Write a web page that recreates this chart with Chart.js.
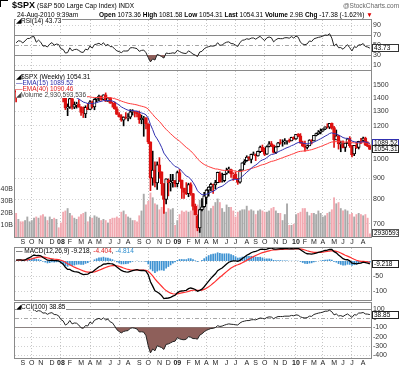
<!DOCTYPE html>
<html><head><meta charset="utf-8">
<script src="https://cdn.jsdelivr.net/npm/chart.js@4.4.1/dist/chart.umd.min.js"></script>
<style>
html,body{margin:0;padding:0;background:#fff;}
body{width:400px;height:369px;overflow:hidden;position:relative;font-family:"Liberation Sans",Arial,sans-serif;}
canvas{position:absolute;left:0;}
.t{position:absolute;white-space:nowrap;font-size:7px;line-height:7px;color:#000;z-index:5;}
.lg{position:absolute;white-space:nowrap;font-size:6.5px;line-height:6px;background:#fff;z-index:5;padding-right:1px;}
b{font-weight:bold;}
</style></head><body>
<div class="t" style="left:0;top:0;width:7px;height:6px;border-top:1px solid #000;border-left:1px solid #000;"></div>
<div class="t" style="left:12px;top:2px;"><b style="font-size:9px;">$SPX</b> <span style="font-size:6.5px;">(S&amp;P 500 Large Cap Index) INDX</span></div>
<div class="t" style="left:343px;top:2px;font-size:6.5px;color:#666;">@StockCharts.com</div>
<div class="t" style="left:17px;top:11px;font-size:6.5px;">24-Aug-2010 9:39am</div>
<div class="t" style="left:99px;top:11px;font-size:6.5px;"><b>Open</b> 1073.36 <b>High</b> 1081.58 <b>Low</b> 1054.31 <b>Last</b> 1054.31 <b>Volume</b> 2.9B <b>Chg</b> -17.38 (-1.62%) <span style="color:#d00;">&#9660;</span></div>
<div class="lg" style="left:16px;top:18px;">&#9698;RSI(14) 43.73</div>
<div class="lg" style="left:16px;top:74px;">&#9698;$SPX (Weekly) 1054.31</div>
<div class="lg" style="left:16px;top:80px;color:#2a2aa8;">&#8212;EMA(15) 1089.52</div>
<div class="lg" style="left:16px;top:86px;color:#e02020;">&#8212;EMA(40) 1090.46</div>
<div class="lg" style="left:16px;top:92px;color:#444;">&#9698;Volume 2,930,593,536</div>
<div class="lg" style="left:16px;top:248px;">&#8212; MACD(12,26,9) -9.218, <span style="color:#e02020">-4.404</span>, <span style="color:#2f8fd0">-4.814</span></div>
<div class="lg" style="left:16px;top:304px;">&#9698;CCI(100) 38.85</div>

<canvas id="cRsi" width="400" height="53" style="top:18px"></canvas>
<canvas id="cPrice" width="400" height="176" style="top:71px"></canvas>
<canvas id="cMacd" width="400" height="54" style="top:247px"></canvas>
<canvas id="cCci" width="400" height="67" style="top:302px"></canvas>

<script>
// ---------------- DATA (weekly bars, 13-Aug-2007 .. 23-Aug-2010) ----------------
const TICK_INDEX = [3,7,11,16,20,24,29,33,37,42,46,50,55,59,64,68,72,77,81,85,89,94,98,103,107,111,116,120,125,129,133,137,142,146,150,155];
const TICK_LABEL = ['S','O','N','D','08','F','M','A','M','J','J','A','S','O','N','D','09','F','M','A','M','J','J','A','S','O','N','D','10','F','M','A','M','J','J','A'];
const GRID_INDEX = [7,20,33,46,59,72,85,98,111,125,137,150];

const OPEN = [1453.4,1445.6,1479.4,1474.0,1453.5,1484.2,1525.8,1527.3,1557.4,1562.2,1500.6,1536.9,1505.6,1453.7,1458.7,1440.7,1479.6,1505.0,1465.0,1484.5,
1468.4,1414.0,1402.0,1325.2,1330.5,1395.4,1331.3,1350.0,1353.1,1330.5,1293.2,1283.0,1330.0,1315.0,1370.0,1332.8,1390.3,1397.8,1413.9,1388.3,
1425.3,1375.9,1400.4,1360.7,1360.0,1317.9,1278.0,1262.9,1239.5,1260.7,1257.8,1260.3,1296.3,1298.2,1292.2,1282.8,1242.3,1251.7,1255.1,1213.3,
1099.2,899.2,940.5,876.8,968.7,931.0,873.3,800.0,888.6,876.1,879.1,887.9,872.4,927.5,890.4,850.1,832.0,825.4,868.2,826.8,
770.0,729.6,683.4,756.6,768.5,809.1,842.5,856.6,868.2,866.2,877.2,922.9,886.1,887.0,923.3,940.4,943.4,918.1,919.9,894.3,
879.6,940.6,979.2,990.2,1008.9,998.2,1026.6,1025.2,1016.4,1040.5,1067.3,1043.8,1026.9,1071.6,1088.2,1079.6,1036.2,1069.8,1094.1,1091.5,
1098.9,1105.5,1107.8,1105.0,1127.5,1116.6,1145.0,1136.0,1092.0,1073.9,1065.5,1075.5,1110.0,1105.4,1138.4,1150.0,1157.3,1167.7,1178.7,1194.9,
1192.4,1217.1,1188.6,1111.0,1136.5,1084.8,1087.3,1065.8,1092.0,1121.3,1077.5,1028.1,1077.2,1066.0,1103.0,1107.5,1122.0,1081.0,1073.4];
const HIGH = [1466.3,1484.0,1481.5,1496.4,1489.6,1539.0,1538.7,1561.9,1576.1,1564.7,1536.1,1552.8,1520.0,1492.1,1460.0,1488.9,1508.0,1523.6,1485.4,1498.9,
1472.0,1429.0,1420.0,1355.0,1397.0,1397.0,1370.0,1368.0,1388.0,1335.0,1333.0,1341.0,1359.0,1381.0,1378.0,1395.0,1404.0,1422.0,1416.0,1425.0,
1440.0,1406.0,1404.0,1370.0,1370.0,1333.0,1292.0,1277.0,1262.0,1291.0,1284.0,1313.0,1313.0,1300.0,1303.0,1303.0,1274.0,1265.0,1256.0,1215.0,
1099.2,1044.3,985.0,984.0,1007.5,932.0,873.3,896.2,896.2,918.9,918.9,888.0,935.0,943.9,890.4,852.0,877.9,875.0,877.0,827.0,
780.0,735.0,758.3,804.0,832.0,845.0,858.0,875.6,871.0,889.0,930.2,931.0,924.6,920.0,951.0,956.2,946.0,927.0,931.0,898.7,
943.0,979.5,996.7,1018.0,1013.1,1027.6,1039.5,1028.1,1044.0,1074.0,1080.0,1063.0,1076.0,1101.4,1101.4,1081.0,1071.0,1097.0,1113.0,1112.0,
1119.0,1107.0,1117.0,1128.0,1130.4,1146.0,1150.4,1150.5,1103.7,1104.0,1080.0,1112.4,1112.4,1139.0,1153.0,1170.0,1180.7,1181.4,1194.7,1214.4,
1217.5,1219.8,1197.0,1173.6,1141.0,1104.0,1105.7,1092.0,1120.0,1131.2,1078.0,1078.0,1099.1,1103.0,1120.9,1129.2,1128.0,1100.1,1081.6];
const LOW = [1370.6,1430.5,1432.0,1449.1,1439.3,1471.0,1516.2,1526.5,1546.7,1500.6,1489.6,1492.1,1450.0,1439.0,1406.1,1406.1,1460.0,1464.0,1435.6,1468.5,
1411.6,1370.1,1313.2,1270.1,1322.0,1316.8,1320.0,1324.0,1330.6,1272.0,1257.0,1256.0,1312.0,1312.0,1324.0,1312.0,1370.0,1379.0,1382.0,1386.0,
1373.0,1374.0,1359.0,1331.0,1316.0,1278.0,1260.0,1231.0,1200.4,1248.0,1234.0,1248.0,1274.0,1261.0,1262.0,1217.0,1214.0,1133.5,1180.0,1088.0,
839.8,865.0,857.0,845.3,899.7,818.7,741.0,780.1,815.7,837.9,856.0,857.0,857.0,883.0,804.3,804.1,821.7,812.0,818.4,754.3,
734.5,672.9,666.8,751.0,766.0,779.8,814.5,839.0,826.8,847.1,877.0,878.9,879.6,881.5,919.0,927.0,903.8,888.9,896.4,869.3,
875.3,940.0,968.7,987.0,992.4,978.5,1022.0,991.0,1016.0,1036.0,1041.2,1019.0,1025.0,1069.5,1070.0,1033.0,1029.4,1069.3,1085.0,1073.0,
1085.0,1085.0,1096.0,1105.0,1114.0,1114.0,1130.0,1090.2,1071.6,1044.5,1056.5,1075.5,1086.0,1105.4,1136.0,1144.0,1148.5,1165.0,1175.0,1186.0,
1181.6,1179.0,1065.8,1111.0,1055.9,1040.8,1062.3,1042.2,1089.0,1066.0,1010.9,1018.4,1060.0,1056.9,1088.0,1101.0,1076.6,1069.4,1054.3];
const CLOSE = [1445.9,1479.4,1474.0,1453.6,1484.3,1525.8,1526.8,1557.6,1561.8,1500.6,1535.3,1509.7,1453.7,1458.7,1440.7,1481.1,1504.7,1468.0,1484.5,1478.5,
1411.6,1401.0,1325.2,1330.6,1395.4,1331.3,1350.0,1353.1,1330.6,1293.4,1288.1,1329.5,1315.2,1370.4,1332.8,1390.3,1397.8,1413.9,1388.3,1425.4,
1375.9,1400.4,1360.7,1360.0,1317.9,1278.4,1262.9,1239.5,1260.7,1257.8,1260.3,1296.3,1298.2,1292.2,1282.8,1242.3,1251.7,1255.1,1213.3,1099.2,
899.2,940.6,876.8,968.8,931.0,873.3,800.0,896.2,876.1,879.1,887.9,872.8,927.5,890.4,850.1,832.0,825.9,868.6,826.8,770.1,
735.1,683.4,756.6,768.5,815.9,842.5,856.6,869.6,866.2,877.5,929.2,882.9,887.0,919.1,940.1,946.2,921.2,918.9,896.4,879.1,
940.4,979.3,987.5,1010.5,1004.1,1026.1,1028.9,1016.4,1042.7,1068.3,1044.4,1025.2,1071.5,1087.7,1079.6,1036.2,1069.3,1093.5,1091.4,1091.5,
1106.0,1106.4,1102.5,1126.5,1115.1,1145.0,1136.0,1091.8,1073.9,1066.2,1075.5,1109.2,1104.5,1138.7,1150.0,1159.9,1166.6,1178.1,1194.4,1192.1,
1217.3,1186.7,1110.9,1135.7,1087.7,1089.4,1064.9,1091.6,1117.5,1076.8,1022.6,1078.0,1064.9,1102.7,1101.6,1121.6,1079.3,1071.7,1054.3];
const PREV_CLOSE_0 = 1453.6;
// weekly volume, billions of shares
const VOLUME = [20,15,13,13,14,17,13,14,16,17,16,18,19,17,14,17,15,16,15,8,
12,21,22,24,20,18,16,15,17,19,20,21,13,17,16,18,17,16,14,15,
14,12,15,16,16,17,16,21,22,19,17,16,14,14,13,18,22,36,27,30,
37,33,28,27,23,25,31,21,24,23,24,10,14,19,22,21,22,21,22,22,
26,27,31,30,26,27,22,24,26,29,32,29,24,21,27,25,25,22,17,21,
22,23,23,26,22,23,22,19,22,23,22,21,21,22,24,25,22,20,20,14,
19,28,10,10,11,19,20,21,24,24,21,18,20,20,19,22,20,17,18,20,
21,23,33,28,29,24,22,23,22,19,20,17,19,20,19,18,19,16,2.93];
const EMA15 = [1475.0,1475.6,1475.4,1472.7,1474.1,1480.6,1486.4,1495.3,1503.6,1503.2,1507.2,1507.5,1500.8,1495.5,1488.7,1487.7,1489.8,1487.1,1486.8,1485.8,
1476.5,1467.1,1449.4,1434.5,1429.6,1417.3,1408.9,1401.9,1393.0,1380.6,1369.0,1364.1,1358.0,1359.5,1356.2,1360.5,1365.1,1371.2,1373.4,1379.9,
1379.4,1382.0,1379.3,1376.9,1369.5,1358.1,1346.2,1332.9,1323.9,1315.6,1308.7,1307.1,1306.0,1304.3,1301.6,1294.2,1288.9,1284.7,1275.8,1253.7,
1209.4,1175.8,1138.4,1117.2,1093.9,1066.3,1033.0,1015.9,998.4,983.5,971.6,959.2,955.3,947.2,935.0,922.1,910.1,904.9,895.1,879.5,
861.5,839.2,828.9,821.3,820.6,823.4,827.5,832.8,837.0,842.0,852.9,856.7,860.5,867.8,876.8,885.5,890.0,893.6,893.9,892.1,
898.1,908.3,918.2,929.7,939.0,949.9,959.8,966.9,976.4,987.9,994.9,998.7,1007.8,1017.8,1025.5,1026.8,1032.1,1039.8,1046.3,1051.9,
1058.7,1064.6,1069.4,1076.5,1081.3,1089.3,1095.1,1094.7,1092.1,1088.9,1087.2,1090.0,1091.8,1097.6,1104.2,1111.2,1118.1,1125.6,1134.2,1141.4,
1150.9,1155.4,1149.8,1148.1,1140.5,1134.1,1125.5,1121.2,1120.8,1115.3,1103.7,1100.5,1096.1,1096.9,1097.5,1100.5,1097.9,1094.6,1089.5];
const EMA40 = [1454.6,1455.8,1456.7,1456.5,1457.9,1461.2,1464.4,1469.0,1473.5,1474.8,1477.8,1479.3,1478.1,1477.1,1475.3,1475.6,1477.0,1476.6,1477.0,1477.0,
1473.8,1470.3,1463.2,1456.7,1453.7,1447.8,1443.0,1438.6,1433.3,1426.5,1419.7,1415.3,1410.5,1408.5,1404.8,1404.1,1403.8,1404.3,1403.5,1404.6,
1403.2,1403.1,1401.0,1399.0,1395.0,1389.3,1383.2,1376.2,1370.5,1365.0,1359.9,1356.8,1354.0,1351.0,1347.6,1342.5,1338.1,1334.0,1328.1,1317.0,
1296.6,1279.2,1259.6,1245.4,1230.0,1212.6,1192.5,1178.0,1163.3,1149.4,1136.7,1123.8,1114.2,1103.3,1090.9,1078.3,1066.0,1056.3,1045.1,1031.7,
1017.2,1000.9,989.0,978.3,970.3,964.1,958.8,954.5,950.2,946.6,945.8,942.7,940.0,939.0,939.0,939.4,938.5,937.5,935.5,932.8,
933.1,935.4,937.9,941.5,944.5,948.5,952.4,955.5,959.8,965.1,968.9,971.7,976.5,982.0,986.7,989.2,993.1,998.0,1002.5,1006.9,
1011.7,1016.3,1020.6,1025.7,1030.1,1035.7,1040.6,1043.1,1044.6,1045.7,1047.1,1050.1,1052.8,1057.0,1061.5,1066.3,1071.2,1076.4,1082.2,1087.5,
1093.9,1098.4,1099.0,1100.8,1100.2,1099.6,1097.9,1097.6,1098.6,1097.5,1093.9,1093.1,1091.7,1092.3,1092.7,1094.1,1093.4,1092.3,1090.5];
const RSI14 = [54.4,58.5,57.6,54.2,58.2,63.0,63.1,66.4,66.8,55.6,59.7,55.6,47.8,48.5,46.1,51.8,54.8,49.6,51.9,51.0,
42.4,41.2,33.9,34.8,44.4,38.4,40.9,41.4,39.1,35.7,35.2,41.7,40.2,48.0,43.8,50.8,51.7,53.5,50.2,54.6,
48.5,51.4,46.8,46.7,42.1,38.3,36.8,34.7,38.1,37.9,38.3,44.4,44.7,43.9,42.6,37.3,39.2,39.9,34.6,24.9,
16.2,22.3,19.9,31.2,29.4,26.8,23.9,34.0,33.0,33.3,34.3,33.4,39.5,37.0,34.5,33.4,33.0,38.4,35.4,31.8,
29.8,27.0,36.0,37.3,42.5,45.2,46.7,48.1,47.7,49.0,54.6,49.4,49.9,53.4,55.6,56.3,52.9,52.5,49.4,47.1,
55.1,59.3,60.2,62.5,61.4,63.8,64.1,61.6,64.7,67.4,62.5,58.9,64.3,66.0,64.4,56.3,60.4,63.1,62.7,62.7,
64.5,64.6,63.6,66.8,63.9,67.9,65.6,55.4,51.9,50.5,52.2,58.1,57.0,62.3,63.9,65.3,66.2,67.8,70.0,69.3,
72.6,63.7,47.9,52.1,44.6,44.9,41.5,46.3,50.6,44.6,38.1,46.6,45.1,50.3,50.2,52.9,47.0,46.0,43.73];
const MACD_LINE = [2.7,3.5,3.7,2.2,3.4,7.7,10.9,15.9,19.9,18.0,19.0,17.5,11.7,7.4,2.6,2.0,3.3,1.4,1.2,0.6,
-5.3,-10.6,-20.7,-28.0,-28.2,-33.2,-35.2,-36.1,-38.2,-42.4,-45.6,-44.4,-43.9,-38.7,-37.2,-30.9,-25.2,-19.1,-16.0,-10.6,
-10.1,-7.7,-8.9,-9.7,-13.7,-19.8,-25.5,-31.6,-34.3,-36.3,-37.2,-34.7,-32.1,-30.3,-29.1,-31.2,-31.7,-31.5,-34.2,-45.2,
-69.2,-83.8,-99.4,-103.2,-108.1,-115.2,-125.2,-124.1,-123.3,-121.2,-117.3,-114.2,-106.1,-101.4,-100.0,-99.0,-97.6,-92.1,-90.0,-91.8,
-95.0,-100.6,-98.0,-93.8,-85.7,-76.3,-66.9,-57.8,-50.2,-42.8,-32.4,-27.6,-23.2,-16.8,-10.0,-4.2,-1.5,0.5,0.2,-1.4,
2.2,8.2,13.4,19.2,22.9,27.4,30.8,32.2,34.9,38.7,39.4,37.9,39.9,42.4,43.3,40.0,39.6,40.7,41.0,40.8,
41.3,41.2,40.4,41.2,40.5,41.8,41.7,37.6,32.5,27.5,24.1,23.7,22.8,24.6,26.6,28.7,30.6,32.6,35.0,36.4,
39.0,38.3,31.2,27.2,20.0,14.2,7.6,4.5,4.1,0.4,-6.8,-7.9,-9.7,-8.1,-6.8,-4.0,-5.2,-6.8,-9.218];
const MACD_SIGNAL = [2.1,2.4,2.7,2.6,2.8,3.8,5.2,7.3,9.8,11.4,12.9,13.8,13.4,12.2,10.3,8.6,7.5,6.3,5.3,4.4,
2.5,-0.1,-4.2,-9.0,-12.8,-16.9,-20.6,-23.7,-26.6,-29.8,-32.9,-35.2,-37.0,-37.3,-37.3,-36.0,-33.9,-30.9,-27.9,-24.5,
-21.6,-18.8,-16.8,-15.4,-15.1,-16.0,-17.9,-20.6,-23.4,-26.0,-28.2,-29.5,-30.0,-30.1,-29.9,-30.2,-30.5,-30.7,-31.4,-34.2,
-41.2,-49.7,-59.6,-68.3,-76.3,-84.1,-92.3,-98.7,-103.6,-107.1,-109.1,-110.1,-109.3,-107.7,-106.2,-104.8,-103.4,-101.1,-98.9,-97.5,
-97.0,-97.7,-97.8,-97.0,-94.7,-91.0,-86.2,-80.5,-74.4,-68.1,-61.0,-54.3,-48.1,-41.8,-35.4,-29.2,-23.7,-18.9,-15.1,-12.4,
-9.5,-6.0,-2.1,2.2,6.3,10.5,14.6,18.1,21.5,24.9,27.8,29.8,31.8,33.9,35.8,36.6,37.2,37.9,38.5,39.0,
39.5,39.8,39.9,40.2,40.3,40.6,40.8,40.2,38.7,36.5,34.0,31.9,30.1,29.0,28.5,28.5,28.9,29.6,30.7,31.8,
33.2,34.2,33.6,32.3,29.8,26.7,22.9,19.2,16.2,13.0,9.0,5.6,2.5,0.4,-1.0,-1.6,-2.3,-3.2,-4.404];
const MACD_HIST = [0.6,1.1,1.0,-0.4,0.6,3.9,5.7,8.6,10.1,6.6,6.1,3.7,-1.7,-4.8,-7.7,-6.6,-4.2,-4.9,-4.1,-3.8,
-7.8,-10.5,-16.5,-19.0,-15.4,-16.3,-14.6,-12.4,-11.6,-12.6,-12.7,-9.2,-6.9,-1.4,0.1,5.1,8.7,11.8,11.9,13.9,
11.5,11.1,7.9,5.7,1.4,-3.8,-7.6,-11.0,-10.9,-10.3,-9.0,-5.2,-2.1,-0.2,0.8,-1.0,-1.2,-0.8,-2.8,-11.0,
-28.0,-34.1,-39.8,-34.9,-31.8,-31.1,-32.9,-25.4,-19.7,-14.1,-8.2,-4.1,3.2,6.3,6.2,5.8,5.8,9.0,8.9,5.7,
2.0,-2.9,-0.2,3.2,9.0,14.7,19.3,22.7,24.2,25.3,28.6,26.7,24.9,25.0,25.4,25.0,22.2,19.4,15.3,11.0,
11.7,14.2,15.5,17.0,16.6,16.9,16.2,14.1,13.4,13.8,11.6,8.1,8.1,8.5,7.5,3.4,2.4,2.8,2.5,1.8,
1.8,1.4,0.5,1.0,0.2,1.2,0.9,-2.6,-6.2,-9.0,-9.9,-8.2,-7.3,-4.4,-1.9,0.2,1.7,3.0,4.3,4.6,
5.8,4.1,-2.4,-5.1,-9.8,-12.5,-15.3,-14.7,-12.1,-12.6,-15.8,-13.5,-12.2,-8.5,-5.8,-2.4,-2.9,-3.6,-4.814];
const CCI100 = [106,124,120,108,112,96,90,96,97,72,82,76,55,58,42,55,60,40,38,25,
-15,-30,-75,-60,-25,-62,-52,-55,-75,-105,-110,-80,-85,-42,-60,-22,-12,-2,-15,3,
-20,-10,-40,-50,-85,-125,-145,-160,-145,-138,-135,-110,-105,-110,-118,-150,-148,-152,-190,-300,
-378,-335,-355,-300,-310,-320,-340,-285,-280,-268,-255,-250,-212,-225,-232,-235,-228,-200,-208,-222,
-222,-228,-185,-170,-148,-132,-122,-112,-110,-102,-82,-90,-86,-76,-68,-62,-66,-68,-72,-74,
-52,-38,-32,-26,-26,-18,-16,-18,-8,2,-2,-8,8,14,12,-6,8,18,18,18,
22,22,22,30,26,36,32,14,6,2,6,22,20,40,48,55,60,66,76,76,
86,70,36,46,24,28,18,34,46,28,8,38,34,56,56,62,46,44,38.85];

const PRICE_TICKS = [700,800,900,1000,1200,1300,1400,1500];
const VOLUME_TICKS = [10,20,30,40];
const RSI_TICKS = [10,30,50,70,90];
const MACD_TICKS = [-100,-50];
const CCI_TICKS = [-400,-300,-200,-100,0,100];

// ---------------- STYLE ----------------
const FONT = '"Liberation Sans", Arial, sans-serif';
Chart.defaults.font.family = FONT;
Chart.defaults.font.size = 7;
Chart.defaults.color = '#333';
Chart.defaults.animation = false;
Chart.defaults.responsive = false;
Chart.defaults.devicePixelRatio = 1;
Chart.defaults.plugins.legend.display = false;
Chart.defaults.plugins.tooltip.enabled = false;

const RED = '#dd1111', BLACK = '#000000', BROWN = '#8e5f5a';
const LABELS = CLOSE.map((_, i) => String(i));
const prevClose = i => i === 0 ? PREV_CLOSE_0 : CLOSE[i - 1];
const isDown = i => CLOSE[i] < prevClose(i);

function xAxis(show) {
  return {
    type: 'category', offset: true,
    grid: { offset: false, drawTicks: false, lineWidth: 1,
      color: c => GRID_INDEX.includes(c.index) ? '#c4c4c4' : 'rgba(0,0,0,0)' },
    border: { display: false, dash: [1, 2] },
    ticks: { display: show, autoSkip: false, maxRotation: 0, minRotation: 0, padding: 1, color: '#222',
      font: c => ({ size: 7, family: FONT, weight: /\d/.test(TICK_LABEL[TICK_INDEX.indexOf(c.index)] || '') ? 'bold' : 'normal' }),
      callback: (v, i) => { const k = TICK_INDEX.indexOf(i); return k >= 0 ? TICK_LABEL[k] : ''; } },
    afterFit: s => { s.height = show ? 10 : 0; s.paddingLeft = 0; s.paddingRight = 0; }
  };
}
function rightAxis(extra, ticks, fmt) {
  return Object.assign({
    position: 'right',
    grid: { display: false, drawTicks: false },
    border: { display: false },
    ticks: { autoSkip: false, padding: 2, color: '#333', font: { size: 7 }, callback: fmt || (v => v) },
    afterBuildTicks: s => { s.ticks = ticks.map(v => ({ value: v })); },
    afterFit: s => { s.width = 29; s.paddingTop = 0; s.paddingBottom = 0; }
  }, extra);
}

const panelPlugin = {
  id: 'panel',
  beforeDatasetsDraw(chart, args, opts) {
    const { ctx, chartArea: a } = chart;
    ctx.save();
    (opts.refs || []).forEach(r => {
      const y = Math.round(chart.scales[r.axis].getPixelForValue(r.v)) + 0.5;
      ctx.beginPath(); ctx.strokeStyle = r.color; ctx.lineWidth = r.width || 1;
      ctx.setLineDash(r.dash || []);
      ctx.moveTo(a.left, y); ctx.lineTo(a.right, y); ctx.stroke();
    });
    ctx.restore();
  },
  afterDraw(chart, args, opts) {
    const { ctx, chartArea: a } = chart;
    ctx.save();
    ctx.strokeStyle = '#8a8a8a'; ctx.lineWidth = 1; ctx.setLineDash([]);
    ctx.strokeRect(Math.round(a.left) - 0.5, Math.round(a.top) - 0.5, Math.round(a.right - a.left) + 1, Math.round(a.bottom - a.top) + 1);
    (opts.boxes || []).forEach(b => {
      const y = Math.round(chart.scales[b.axis].getPixelForValue(b.v));
      const x = Math.round(a.right) + 1, w = 27, h = 8;
      ctx.fillStyle = '#fff'; ctx.fillRect(x, y - h / 2, w, h);
      ctx.strokeStyle = b.stroke; ctx.strokeRect(x + 0.5, y - h / 2 + 0.5, w - 1, h - 1);
      ctx.fillStyle = b.color || '#000'; ctx.font = '6.5px ' + FONT; ctx.textBaseline = 'middle'; ctx.textAlign = 'left';
      ctx.save(); ctx.beginPath(); ctx.rect(x + 1, y - h / 2, w - 2, h); ctx.clip();
      ctx.fillText(b.text, x + 2, y + 0.5); ctx.restore();
    });
    ctx.restore();
  }
};
Chart.register(panelPlugin);

const commonLayout = pad => ({ autoPadding: false, padding: pad });

// ---------------- RSI ----------------
new Chart(document.getElementById('cRsi'), {
  type: 'line',
  data: { labels: LABELS, datasets: [{
    data: RSI14, borderColor: '#222', borderWidth: 1, pointRadius: 0, tension: 0,
    fill: { target: { value: 30 }, above: 'rgba(0,0,0,0)', below: BROWN }
  }] },
  options: {
    layout: commonLayout({ left: 15, top: 2, bottom: 1, right: 0 }),
    scales: { x: xAxis(false), y: rightAxis({ min: 0, max: 100 }, RSI_TICKS) },
    plugins: { panel: {
      refs: [ { axis: 'y', v: 90, color: '#d0d0d0', dash: [1, 2] }, { axis: 'y', v: 10, color: '#d0d0d0', dash: [1, 2] },
              { axis: 'y', v: 70, color: '#8a8a8a' }, { axis: 'y', v: 30, color: '#8a8a8a' },
              { axis: 'y', v: 50, color: '#a8a8a8', dash: [4, 2, 1, 2] } ],
      boxes: [ { axis: 'y', v: 43.73, text: '43.73', stroke: '#333' } ] } }
  }
});

// ---------------- PRICE + VOLUME ----------------
const candleColor = c => isDown(c.dataIndex) ? RED : BLACK;
new Chart(document.getElementById('cPrice'), {
  type: 'bar',
  data: { labels: LABELS, datasets: [
    { label: 'Volume', data: VOLUME, yAxisID: 'yv', order: 5, grouped: false,
      backgroundColor: c => isDown(c.dataIndex) ? '#f2a9b1' : '#a9a9a9',
      barPercentage: 0.85, categoryPercentage: 1 },
    { label: 'EMA(40)', type: 'line', data: EMA40, yAxisID: 'y', order: 2, borderColor: '#ff3b3b', borderWidth: 1, pointRadius: 0, tension: 0 },
    { label: 'EMA(15)', type: 'line', data: EMA15, yAxisID: 'y', order: 1, borderColor: '#3030b0', borderWidth: 1, pointRadius: 0, tension: 0 },
    { label: 'wick', data: LOW.map((l, i) => [l, HIGH[i]]), yAxisID: 'y', order: 4, grouped: false,
      backgroundColor: candleColor, barThickness: 1, borderWidth: 0 },
    { label: '$SPX', data: OPEN.map((o, i) => [o, CLOSE[i]]), yAxisID: 'y', order: 3, grouped: false,
      backgroundColor: c => CLOSE[c.dataIndex] > OPEN[c.dataIndex] ? '#ffffff' : candleColor(c),
      borderColor: candleColor, borderWidth: 1, borderSkipped: false, barThickness: 3 }
  ] },
  options: {
    layout: commonLayout({ left: 0, top: 0, bottom: 0, right: 0 }),
    scales: {
      x: xAxis(true),
      y: rightAxis({ type: 'logarithmic', min: 650.3, max: 1624.8,
        grid: { display: true, drawTicks: false, color: '#d4d4d4' }, border: { display: false, dash: [1, 2] } }, PRICE_TICKS),
      yv: { position: 'left', min: 0, max: 138.3,
        grid: { display: false, drawTicks: false }, border: { display: false },
        ticks: { autoSkip: false, padding: 2, color: '#333', font: { size: 7 }, callback: v => v + 'B' },
        afterBuildTicks: s => { s.ticks = VOLUME_TICKS.map(v => ({ value: v })); },
        afterFit: s => { s.width = 15; s.paddingTop = 0; s.paddingBottom = 0; } }
    },
    plugins: { panel: { boxes: [
      { axis: 'y', v: 1090.46, text: '1090.46', stroke: '#ff3b3b', color: '#000' },
      { axis: 'y', v: 1089.52, text: '1089.52', stroke: '#3030b0', color: '#000' },
      { axis: 'y', v: 1054.31, text: '1054.31', stroke: '#222', color: '#000' },
      { axis: 'yv', v: 2.93, text: '2930593536', stroke: '#555', color: '#000' } ] } }
  }
});

// ---------------- MACD ----------------
new Chart(document.getElementById('cMacd'), {
  type: 'bar',
  data: { labels: LABELS, datasets: [
    { label: 'hist', data: MACD_HIST, order: 3, backgroundColor: '#3d92d2', barPercentage: 0.75, categoryPercentage: 1 },
    { label: 'signal', type: 'line', data: MACD_SIGNAL, order: 2, borderColor: '#ff3030', borderWidth: 1.2, pointRadius: 0, tension: 0 },
    { label: 'MACD', type: 'line', data: MACD_LINE, order: 1, borderColor: '#000', borderWidth: 1.3, pointRadius: 0, tension: 0 }
  ] },
  options: {
    layout: commonLayout({ left: 15, top: 1, bottom: 1, right: 0 }),
    scales: { x: xAxis(false), y: rightAxis({ min: -130, max: 43.3 }, MACD_TICKS) },
    plugins: { panel: {
      refs: [ { axis: 'y', v: 0, color: '#c8c8c8', dash: [1, 2] }, { axis: 'y', v: -50, color: '#d0d0d0', dash: [1, 2] },
              { axis: 'y', v: -100, color: '#d0d0d0', dash: [1, 2] } ],
      boxes: [ { axis: 'y', v: -9.218, text: '-9.218', stroke: '#222' } ] } }
  }
});

// ---------------- CCI ----------------
new Chart(document.getElementById('cCci'), {
  type: 'line',
  data: { labels: LABELS, datasets: [{
    data: CCI100, borderColor: '#222', borderWidth: 1, pointRadius: 0, tension: 0,
    fill: { target: { value: -100 }, above: 'rgba(0,0,0,0)', below: BROWN }
  }, {
    data: CCI100, borderColor: 'rgba(0,0,0,0)', borderWidth: 0, pointRadius: 0,
    fill: { target: { value: 100 }, above: '#4f5f4f', below: 'rgba(0,0,0,0)' }
  }] },
  options: {
    layout: commonLayout({ left: 15, top: 1, bottom: 1, right: 0 }),
    scales: { x: xAxis(true), y: rightAxis({ min: -433, max: 165 }, CCI_TICKS) },
    plugins: { panel: {
      refs: [ { axis: 'y', v: 100, color: '#8a8a8a' }, { axis: 'y', v: -100, color: '#8a8a8a' },
              { axis: 'y', v: 0, color: '#a8a8a8', dash: [4, 2, 1, 2] },
              { axis: 'y', v: -200, color: '#d0d0d0', dash: [1, 2] }, { axis: 'y', v: -300, color: '#d0d0d0', dash: [1, 2] },
              { axis: 'y', v: -400, color: '#d0d0d0', dash: [1, 2] } ],
      boxes: [ { axis: 'y', v: 38.85, text: '38.85', stroke: '#222' } ] } }
  }
});
</script>
</body></html>
